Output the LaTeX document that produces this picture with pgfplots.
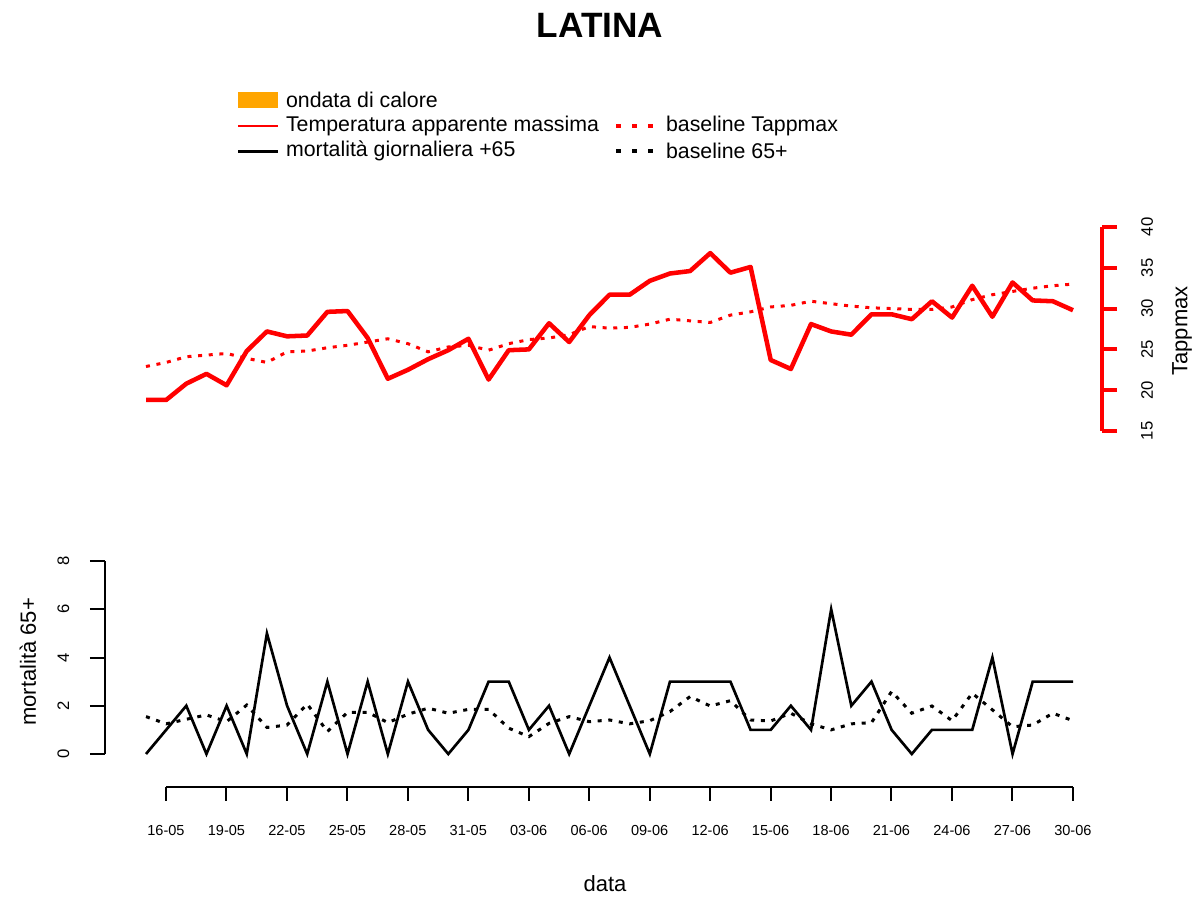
\documentclass[border=0pt]{standalone}
\usepackage{pgfplots}
\pgfplotsset{compat=1.18}
\usepackage{pgfplotstable}
\usepackage{fontspec}
\setmainfont{Liberation Sans}
\definecolor{ondata}{HTML}{FFA500}

% day index 0 = 15-05 ... 46 = 30-06
\pgfplotstableread{
i  temp tbase mort mbase
0  18.8 22.9 0 1.55
1  18.8 23.4 1 1.25
2  20.8 24.1 2 1.44
3  22.0 24.3 0 1.62
4  20.6 24.5 2 1.34
5  24.8 23.9 0 2.03
6  27.2 23.4 5 1.10
7  26.6 24.7 2 1.20
8  26.7 24.8 0 2.07
9  29.6 25.2 3 0.93
10 29.7 25.5 0 1.73
11 26.4 25.9 3 1.73
12 21.4 26.3 0 1.30
13 22.5 25.7 3 1.65
14 23.8 24.7 1 1.90
15 24.9 25.3 0 1.69
16 26.3 25.5 1 1.85
17 21.3 24.9 3 1.85
18 24.9 25.7 3 1.07
19 25.0 26.2 1 0.72
20 28.2 26.4 2 1.27
21 25.9 26.8 0 1.55
22 29.2 27.8 2 1.34
23 31.7 27.6 4 1.41
24 31.7 27.7 2 1.25
25 33.4 28.1 0 1.38
26 34.3 28.7 3 1.76
27 34.6 28.5 3 2.38
28 36.8 28.3 3 1.99
29 34.4 29.2 3 2.21
30 35.1 29.6 1 1.41
31 23.7 30.2 1 1.37
32 22.6 30.4 2 1.69
33 28.1 30.9 1 1.25
34 27.2 30.6 6 1.00
35 26.8 30.3 2 1.25
36 29.3 30.1 3 1.30
37 29.3 30.0 1 2.59
38 28.7 29.9 0 1.69
39 30.9 29.9 1 1.99
40 28.9 30.2 1 1.38
41 32.8 31.1 1 2.52
42 29.0 31.7 4 1.83
43 33.2 32.1 0 1.13
44 31.0 32.5 3 1.20
45 30.9 32.8 3 1.69
46 29.8 33.0 3 1.38
}\data

\begin{document}
\begin{tikzpicture}
\useasboundingbox (0,0) rectangle (903pt,673.5pt);

% title
\node[font=\fontsize{26.4}{30}\selectfont\bfseries] at (450pt,654.75pt) {LATINA};

% legend
\begin{scope}[font=\fontsize{16}{19}\selectfont]
\fill[ondata] (178.5pt,592.5pt) rectangle (208.5pt,604.5pt);
\node[anchor=west] at (211pt,598.5pt) {ondata di calore};
\draw[red, line width=1.5pt] (178.5pt,579pt) -- (208.5pt,579pt);
\node[anchor=west] at (211pt,579pt) {Temperatura apparente massima};
\draw[red, line width=3pt, dash pattern=on 4pt off 8pt] (462pt,579pt) -- (496pt,579pt);
\node[anchor=west] at (496pt,579pt) {baseline Tappmax};
\draw[black, line width=2.2pt] (178.5pt,560pt) -- (208.5pt,560pt);
\node[anchor=west] at (211pt,560pt) {mortalità giornaliera +65};
\draw[black, line width=3pt, dash pattern=on 4pt off 8pt] (462pt,560pt) -- (496pt,560pt);
\node[anchor=west] at (496pt,560pt) {baseline 65+};
\end{scope}

% temperature panel
\begin{axis}[
  at={(109.5pt,350.25pt)}, anchor=south west,
  x=15.114pt, y=6.12pt,
  xmin=0, xmax=47.44, ymin=15, ymax=40,
  axis x line=none, axis y line*=right,
  axis line style={red, line width=3pt, -},
  ytick={15,20,...,40},
  tick align=outside, major tick length=11.25pt,
  ytick style={red, line width=3pt},
  /pgf/number format/assume math mode=true,
  yticklabel style={rotate=90, anchor=center, yshift=-22.5pt,
    font=\fontsize{12.5}{14}\selectfont},
  clip=false,
]
\addplot[red, line width=3.4pt, line join=round] table[x=i, y=temp] {\data};
\addplot[red, line width=2.25pt, dash pattern=on 3pt off 5pt] table[x=i, y=tbase] {\data};
\end{axis}

% mortality panel
\begin{axis}[
  at={(78.75pt,108pt)}, anchor=south west,
  x=15.114pt, y=18.09pt,
  xmin=-2.035, xmax=46.5, ymin=0, ymax=8,
  axis x line=none, axis y line*=left,
  axis line style={black, line width=1.5pt, -},
  ytick={0,2,...,8},
  tick align=outside, major tick length=11.25pt,
  ytick style={black, line width=1.5pt},
  /pgf/number format/assume math mode=true,
  yticklabel style={rotate=90, anchor=center, yshift=20pt,
    font=\fontsize{12.5}{14}\selectfont},
  clip=false,
]
\addplot[black, line width=2pt, line join=miter] table[x=i, y=mort] {\data};
\addplot[black, line width=2.25pt, dash pattern=on 3pt off 5pt] table[x=i, y=mbase] {\data};
\end{axis}

% date axis
\begin{axis}[
  at={(124.5pt,83.25pt)}, anchor=south west,
  x=15.114pt, y=1pt,
  xmin=1, xmax=46, ymin=0, ymax=1,
  axis y line=none, axis x line*=bottom,
  axis line style={black, line width=1.5pt, -},
  xtick={1,4,...,46},
  xticklabels={16-05,19-05,22-05,25-05,28-05,31-05,03-06,06-06,09-06,12-06,15-06,18-06,21-06,24-06,27-06,30-06},
  tick align=outside, major tick length=10.5pt,
  xtick style={black, line width=1.5pt},
  xticklabel style={anchor=center, yshift=-22pt,
    font=\fontsize{10.9}{12}\selectfont},
]
\addplot[draw=none] coordinates {(1,0)};
\end{axis}

% axis titles
\node[rotate=90, font=\fontsize{16.5}{19}\selectfont] at (886.5pt,425.25pt) {Tappmax};
\node[rotate=90, font=\fontsize{16.5}{19}\selectfont] at (21pt,177pt) {mortalità 65+};
\node[font=\fontsize{16.5}{19}\selectfont] at (453.75pt,10.5pt) {data};
\end{tikzpicture}
\end{document}
